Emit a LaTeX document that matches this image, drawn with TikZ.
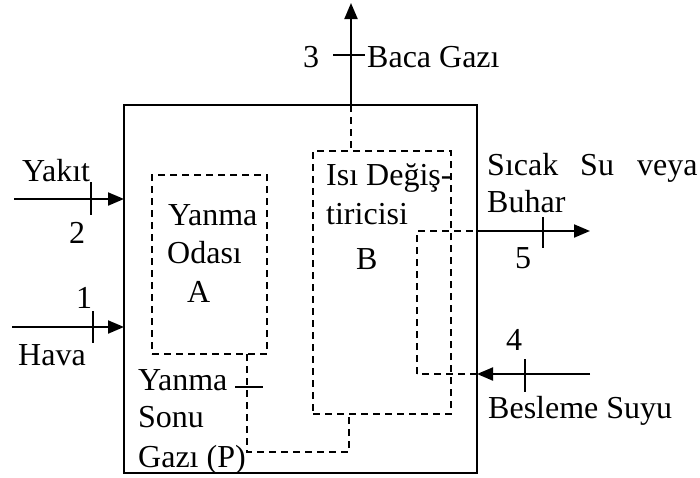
\documentclass[tikz,border=0pt]{standalone}
\usepackage{fontspec}
\setmainfont{Liberation Serif}
\usetikzlibrary{arrows.meta}
\begin{document}
\begin{tikzpicture}[x=1pt,y=-1pt,
  lbl/.style={inner sep=0pt, anchor=base west, font=\fontsize{32}{36}\selectfont},
  solidline/.style={line width=2pt},
  dashline/.style={line width=1.7pt, dash pattern=on 7pt off 5pt},
  arr/.style={solidline, -{Triangle[length=16pt,width=13pt]}},
  tickmark/.style={line width=2pt},
  boxnode/.style={inner sep=0pt, outer sep=0pt, anchor=north west}]
\useasboundingbox (0,0) rectangle (700,477);

% system boundary and sub-boxes
\node[boxnode, draw, solidline, minimum width=353pt, minimum height=368pt] (sys) at (124,105) {};
\node[boxnode, draw, dashline, minimum width=115pt, minimum height=179pt] (boxA) at (152,175) {};
\node[boxnode, draw, dashline, minimum width=138pt, minimum height=263pt] (boxB) at (313,151) {};

% named points
\coordinate (s3) at (351,105);
\coordinate (b3) at (351,151);
\coordinate (top3) at (351,3);
\coordinate (t3a) at (333,55); \coordinate (t3b) at (365,55);

\coordinate (in2) at (14,199); \coordinate (e2) at (124,199);
\coordinate (t2a) at (91,182); \coordinate (t2b) at (91,215);
\coordinate (in1) at (12,327); \coordinate (e1) at (124,327);
\coordinate (t1a) at (93,311); \coordinate (t1b) at (93,343);

\coordinate (gA) at (247,354); \coordinate (g1) at (247,452);
\coordinate (g2) at (349,452); \coordinate (gB) at (349,414);
\coordinate (tga) at (235,387); \coordinate (tgb) at (263,387);

\coordinate (w1) at (417,374); \coordinate (w2) at (417,231);
\coordinate (w3) at (477,231); \coordinate (out5) at (590,231);
\coordinate (t5a) at (543,217); \coordinate (t5b) at (543,248);

\coordinate (w4) at (477,374); \coordinate (in4) at (590,374);
\coordinate (t4a) at (525,359); \coordinate (t4b) at (525,392);

% flows
\draw[arr] (s3) -- (top3);
\draw[tickmark] (t3a) -- (t3b);
\draw[dashline] (s3) -- (b3);

\draw[arr] (in2) -- (e2);
\draw[tickmark] (t2a) -- (t2b);
\draw[arr] (in1) -- (e1);
\draw[tickmark] (t1a) -- (t1b);

\draw[dashline] (gA) -- (g1) -- (g2) -- (gB);
\draw[tickmark] (tga) -- (tgb);

\draw[dashline] (w1) -- (w2) -- (w3);
\draw[arr] (w3) -- (out5);
\draw[tickmark] (t5a) -- (t5b);

\draw[arr] (in4) -- (w4);
\draw[dashline] (w4) -- (w1);
\draw[tickmark] (t4a) -- (t4b);

% labels
\node[lbl] (n3) at (303,67) {3};
\node[lbl] (baca) at (367,67) {Baca Gazı};
\node[lbl] (yakit) at (22,181) {Yakıt};
\node[lbl] (n2) at (69,243) {2};
\node[lbl] (n1) at (76,308) {1};
\node[lbl] (hava) at (18,365) {Hava};

\node[lbl] (aL1) at (168,225) {Yanma};
\node[lbl] (aL2) at (167,263) {Odası};
\node[lbl] (aL3) at (187,302) {A};

\node[lbl] (bL1) at (326,185) {Isı Değiş-};
\node[lbl] (bL2) at (326,224) {tiricisi};
\node[lbl] (bL3) at (356,269) {B};

\node[lbl] (sc1) at (487,175) {Sıcak};
\node[lbl] (sc2) at (580,175) {Su};
\node[lbl] (sc3) at (637,175) {veya};
\node[lbl] (sc4) at (487,212) {Buhar};
\node[lbl] (n5) at (515,268) {5};

\node[lbl] (n4) at (506,350) {4};
\node[lbl] (bes) at (488,418) {Besleme Suyu};

\node[lbl] (p1) at (138,390) {Yanma};
\node[lbl] (p2) at (138,427) {Sonu};
\node[lbl] (p3) at (138,467) {Gazı (P)};
\end{tikzpicture}
\end{document}
